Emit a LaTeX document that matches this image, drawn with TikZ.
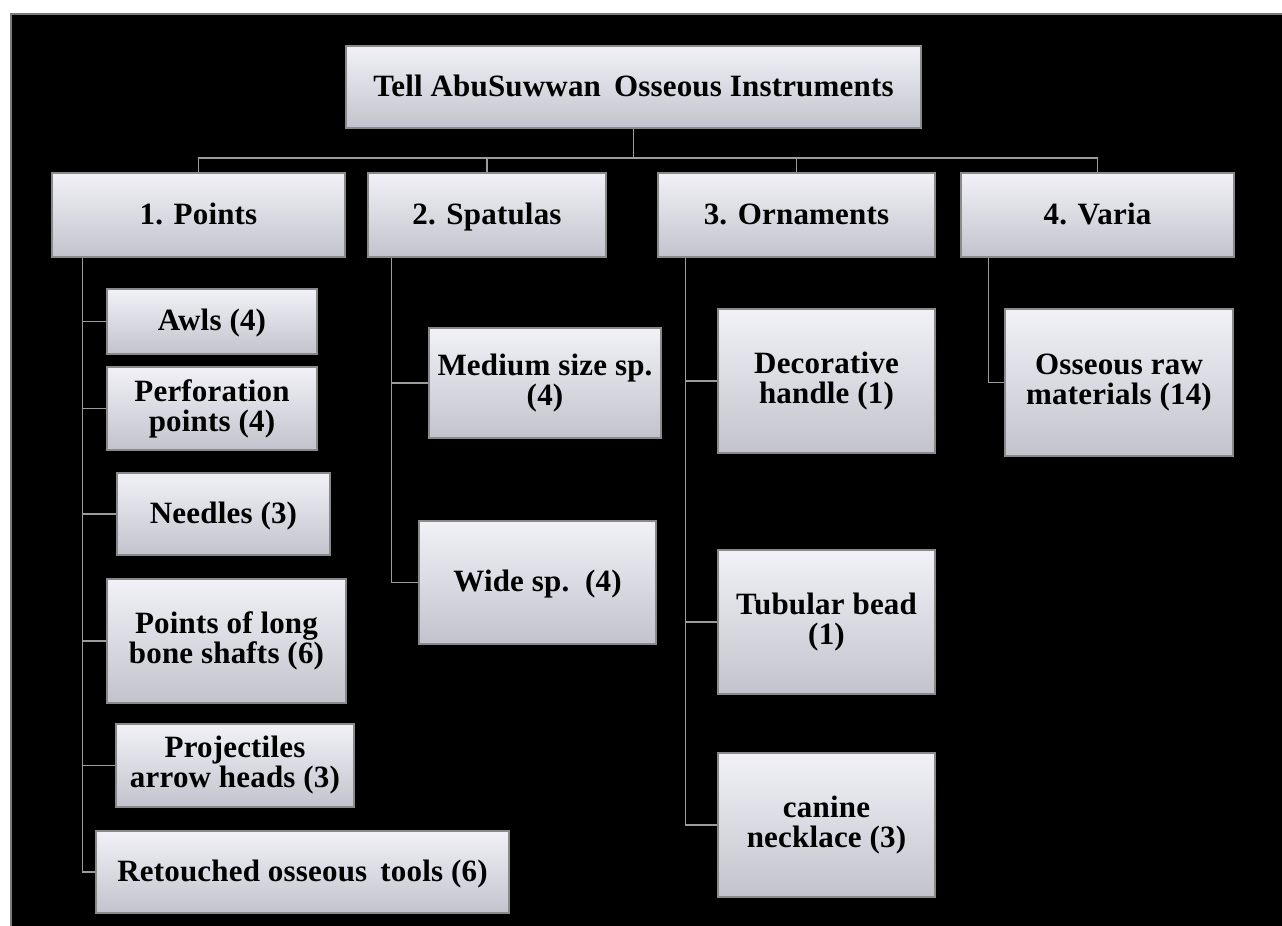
\documentclass[tikz,border=0pt]{standalone}
\usepackage{fontspec}
\setmainfont{Liberation Serif}
\newfontfamily\bxfont{Liberation Serif}[LetterSpace=0.6]
\newcommand\bxstrut{\rule[-6pt]{0pt}{31pt}}
\definecolor{boxtop}{HTML}{F1F1F7}
\definecolor{boxbot}{HTML}{C3C3CD}
\definecolor{boxedge}{HTML}{8A8A8A}
\definecolor{connc}{HTML}{9C9C9C}
\definecolor{framec}{HTML}{7A7A7A}
\tikzset{
  bx/.style={draw=boxedge, line width=1.3pt, top color=boxtop, bottom color=boxbot,
    align=center, inner sep=0pt, text=black,
    font=\bxfont\bfseries\fontsize{31}{30}\selectfont,
    execute at begin node=\bxstrut, execute at end node=\bxstrut},
  conn/.style={draw=connc, line width=1.6pt}
}
\begin{document}
\begin{tikzpicture}[x=1pt,y=-1pt]
\useasboundingbox (0,0) rectangle (1282,926);
\fill[white] (0,0) rectangle (1282,926);
\filldraw[fill=black, draw=framec, line width=2pt] (11,14) rectangle (1290,940);

% level 0
\node[bx, minimum width=575pt, minimum height=82pt] (root) at (633.5,87) {Tell AbuSuwwan\, Osseous Instruments};
% level 1
\node[bx, minimum width=293pt, minimum height=84pt] (pts) at (198.5,215) {1. Points};
\node[bx, minimum width=238pt, minimum height=84pt] (spa) at (487,215) {2. Spatulas};
\node[bx, minimum width=277pt, minimum height=84pt] (orn) at (796.5,215) {3. Ornaments};
\node[bx, minimum width=273pt, minimum height=84pt] (var) at (1097.5,215) {4. Varia};
% points children
\node[bx, minimum width=210pt, minimum height=65pt] (awl) at (212,321.5) {Awls (4)};
\node[bx, minimum width=210pt, minimum height=83pt] (per) at (212,408.5) {Perforation\\points (4)};
\node[bx, minimum width=213pt, minimum height=82pt] (nee) at (223.5,514) {Needles (3)};
\node[bx, minimum width=239pt, minimum height=124pt] (lon) at (226.5,641) {Points of long\\bone shafts (6)};
\node[bx, minimum width=238pt, minimum height=83pt] (pro) at (235,765.5) {Projectiles\\arrow heads (3)};
\node[bx, minimum width=413pt, minimum height=82pt] (ret) at (302.5,872) {Retouched osseous\, tools (6)};
% spatulas children
\node[bx, minimum width=232pt, minimum height=110pt] (med) at (545,383) {Medium size sp.\\(4)};
\node[bx, minimum width=237pt, minimum height=123pt] (wid) at (537.5,582.5) {Wide sp.\, (4)};
% ornaments children
\node[bx, minimum width=217pt, minimum height=144pt] (dec) at (826.5,381) {Decorative\\handle (1)};
\node[bx, minimum width=217pt, minimum height=144pt] (tub) at (826.5,622) {Tubular bead\\(1)};
\node[bx, minimum width=217pt, minimum height=144pt] (can) at (826.5,825) {canine\\necklace (3)};
% varia children
\node[bx, minimum width=228pt, minimum height=147pt] (raw) at (1119,382.5) {Osseous raw\\materials (14)};

% connectors level 0 -> 1
\coordinate (bus) at (638,158);
\foreach \c in {pts,spa,orn,var}
  \draw[conn] (root.south) -- (root.south |- bus) -| (\c.north);

% connectors level 1 -> 2
\foreach \c in {awl,per,nee,lon,pro,ret}
  \draw[conn] ([xshift=31pt]pts.south west) |- (\c.west);
\foreach \c in {med,wid}
  \draw[conn] ([xshift=24pt]spa.south west) |- (\c.west);
\foreach \c in {dec,tub,can}
  \draw[conn] ([xshift=28pt]orn.south west) |- (\c.west);
\draw[conn] ([xshift=28pt]var.south west) |- (raw.west);
\end{tikzpicture}
\end{document}
